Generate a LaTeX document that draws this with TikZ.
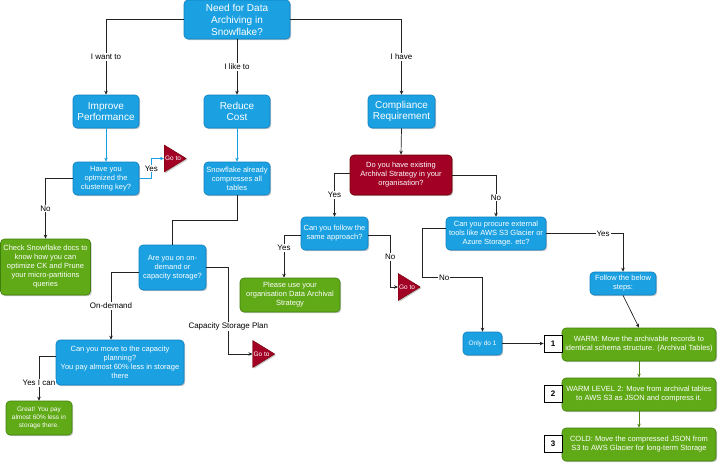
\documentclass[tikz,border=0pt]{standalone}
\usepackage{fontspec}
\setmainfont{Liberation Sans}
\usetikzlibrary{arrows.meta,shapes.geometric,shadows}
\definecolor{bfill}{HTML}{1BA1E2}
\definecolor{bline}{HTML}{0E7FC0}
\definecolor{gfill}{HTML}{60A917}
\definecolor{gline}{HTML}{3F7F0C}
\definecolor{rfill}{HTML}{A20025}
\definecolor{rline}{HTML}{6F0000}
\definecolor{conn}{HTML}{222222}
\tikzset{
  shad/.style={drop shadow={shadow xshift=1.2pt,shadow yshift=-1.2pt,fill=black,opacity=0.22}},
  basebox/.style={rectangle,rounded corners=4pt,align=center,text=white,inner sep=1pt,shad,line width=0.6pt},
  bluebox/.style={basebox,fill=bfill,draw=bline},
  greenbox/.style={basebox,fill=gfill,draw=gline},
  redbox/.style={basebox,fill=rfill,draw=rline},
  bigtxt/.style={font=\fontsize{10}{12}\selectfont},
  midtxt/.style={font=\fontsize{10}{11}\selectfont},
  smtxt/.style={font=\fontsize{7.5}{9}\selectfont},
  tinytxt/.style={font=\fontsize{6.5}{8}\selectfont},
  gotobox/.style={isosceles triangle,isosceles triangle stretches,minimum width=27pt,minimum height=22pt,inner sep=0pt,fill=rfill,draw=rline,text=white,font=\fontsize{6.5}{7}\selectfont,shad},
  numbox/.style={rectangle,draw=black,fill=white,line width=0.7pt,minimum width=18pt,minimum height=17pt,inner sep=0pt,font=\fontsize{8}{9}\selectfont\bfseries},
  conline/.style={draw=conn,line width=0.7pt,-{Stealth[length=4pt,width=3.5pt]}},
  bluecon/.style={draw=bfill,line width=0.8pt,-{Stealth[length=4pt,width=3.5pt]}},
  greencon/.style={draw=gfill!80!black,line width=0.8pt,-{Stealth[length=4pt,width=3.5pt]}},
  lbl/.style={fill=white,inner sep=1pt,text=black,font=\fontsize{8}{9}\selectfont}
}
\begin{document}
\begin{tikzpicture}[x=1pt,y=-1pt]
\useasboundingbox (0,0) rectangle (720,464);
% nodes
\node[bluebox,bigtxt,minimum width=106pt,minimum height=39pt] (top) at (237,19.5) {Need for Data\\Archiving in\\Snowflake?};
\node[bluebox,midtxt,minimum width=66pt,minimum height=33pt] (imp) at (106,111.5) {Improve\\Performance};
\node[bluebox,midtxt,minimum width=66pt,minimum height=33pt] (red) at (237,111.5) {Reduce\\Cost};
\node[bluebox,midtxt,minimum width=67pt,minimum height=33pt] (comp) at (401.5,111.5) {Compliance\\Requirement};
\node[bluebox,smtxt,minimum width=66pt,minimum height=33pt] (have) at (106,178.5) {Have you\\optmized the\\clustering key?};
\node[gotobox] (goto1) at (173,158.5) {Go to};
\node[greenbox,smtxt,minimum width=90pt,minimum height=56pt] (check) at (45.5,267) {Check Snowflake docs to\\know how you can\\optimize CK and Prune\\your micro-partitions\\queries};
\node[bluebox,smtxt,minimum width=66pt,minimum height=33pt] (snow) at (237,178.5) {Snowflake already\\compresses all\\tables};
\node[bluebox,smtxt,minimum width=67pt,minimum height=45pt] (areyou) at (172.5,267.5) {Are you on on-\\demand or\\capacity storage?};
\node[bluebox,smtxt,minimum width=128pt,minimum height=45pt] (capplan) at (120,362.5) {Can you move to the capacity\\planning?\\You pay almost 60\% less in storage\\there};
\node[gotobox] (goto2) at (261.5,354) {Go to};
\node[greenbox,tinytxt,minimum width=66pt,minimum height=34pt] (great) at (39,418) {Great! You pay\\almost 60\% less in\\storage there.};
\node[redbox,smtxt,minimum width=102pt,minimum height=40pt] (doyou) at (401,175) {Do you have existing\\Archival Strategy in your\\organisation?};
\node[bluebox,smtxt,minimum width=67pt,minimum height=33pt] (follow) at (334.5,233.5) {Can you follow the\\same approach?};
\node[greenbox,smtxt,minimum width=100pt,minimum height=34pt] (please) at (290,295) {Please use your\\organisation Data Archival\\Strategy};
\node[gotobox] (goto3) at (407,287) {Go to};
\node[bluebox,smtxt,minimum width=100pt,minimum height=33pt] (procure) at (496,233.5) {Can you procure external\\tools like AWS S3 Glacier or\\Azure Storage. etc?};
\node[bluebox,smtxt,minimum width=66pt,minimum height=23pt] (steps) at (623,283.5) {Follow the below\\steps:};
\node[bluebox,tinytxt,minimum width=39pt,minimum height=23pt] (only) at (482.5,343.5) {Only do 1};
\node[greenbox,smtxt,minimum width=154pt,minimum height=33pt] (warm1) at (639,344.5) {WARM: Move the archivable records to\\identical schema structure. (Archival Tables)};
\node[greenbox,smtxt,minimum width=154pt,minimum height=33pt] (warm2) at (639,394.5) {WARM LEVEL 2: Move from archival tables\\to AWS S3 as JSON and compress it.};
\node[greenbox,smtxt,minimum width=154pt,minimum height=33pt] (cold) at (639,444.5) {COLD: Move the compressed JSON from\\S3 to AWS Glacier for long-term Storage};
\node[numbox] (n1) at (553,343.5) {1};
\node[numbox] (n2) at (553,394) {2};
\node[numbox] (n3) at (553,443.5) {3};
% connectors
\draw[conline] (top.west) -| (imp.north) node[lbl,pos=0.75] {I want to};
\draw[conline] (top.south) -- (red.north) node[lbl,midway] {I like to};
\draw[conline] (top.east) -| (comp.north) node[lbl,pos=0.75] {I have};
\draw[bluecon] (imp.south) -- (have.north);
\draw[bluecon] (have.east) -- ++(12,0) |- (goto1.west) node[lbl,pos=0.25] {Yes};
\draw[conline] (have.west) -| (check.north) node[lbl,pos=0.75] {No};
\draw[bluecon] (red.south) -- (snow.north);
\draw[conn,line width=0.9pt] (snow.south) -- ++(0,25) -| (areyou.north);
\draw[conline] ([yshift=-5pt]areyou.west) -| ([xshift=-9pt]capplan.north) node[lbl,pos=0.75] {On-demand};
\draw[conline] (areyou.east) -- ++(22,0) |- (goto2.west) node[lbl,pos=0.34] {Capacity Storage Plan};
\draw[conline] ([yshift=6pt]capplan.west) -| (great.north) node[lbl,pos=0.8] {Yes I can};
\draw[conline] (comp.south) -- (doyou.north);
\draw[conline] ([yshift=2pt]doyou.west) -| (follow.north) node[lbl,pos=0.75] {Yes};
\draw[conline] ([yshift=-1.5pt]follow.west) -| ([xshift=-6pt]please.north) node[lbl,pos=0.65] {Yes};
\draw[conline] ([yshift=-1.5pt]follow.east) -- ++(22,0) |- (goto3.west) node[lbl,pos=0.21] {No};
\draw[conline] (doyou.east) -| (procure.north) node[lbl,pos=0.77] {No};
\draw[conline] (procure.east) -| (steps.north) node[lbl,pos=0.37] {Yes};
\draw[conline] ([yshift=5pt]procure.west) -- ++(-23,0) -- ++(0,49) -| (only.north) node[lbl,pos=0.18] {No};
\draw[conline] (steps.south) -- (warm1.north);
\draw[conline] (only.east) -- (n1.west);
\draw[greencon] (warm1.south) -- (warm2.north);
\draw[greencon] (warm2.south) -- (cold.north);
\end{tikzpicture}
\end{document}
